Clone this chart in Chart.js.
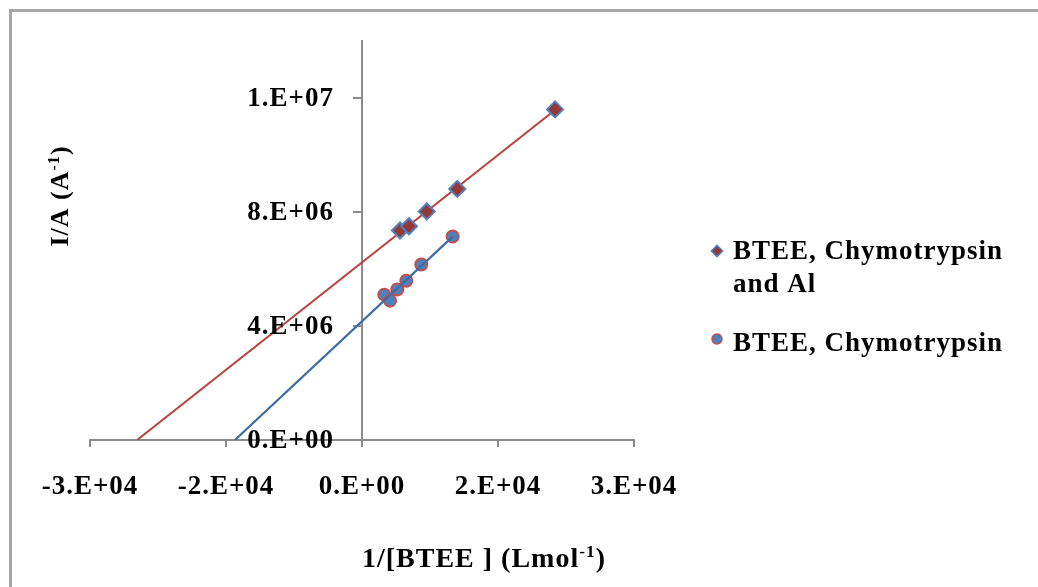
<!DOCTYPE html>
<html>
<head>
<meta charset="utf-8">
<script src="https://cdn.jsdelivr.net/npm/chart.js@4/dist/chart.umd.min.js"></script>
<style>
    body { margin: 0; background: #fff; }
    #wrap { width: 1038px; height: 587px; position: relative; }
</style>
</head>
<body>
<div id="wrap"><canvas id="plot-lb" width="1038" height="587"></canvas></div>
<script>
// values
let x_al = [4190, 5180, 7140, 10510, 21290];
let y_al = [7.35e6, 7.50e6, 8.02e6, 8.81e6, 1.160e7];
let x_chy = [2460, 3090, 3890, 4890, 6540, 10000];
let y_chy = [5.10e6, 4.89e6, 5.28e6, 5.59e6, 6.16e6, 7.14e6];
let series_names = ['BTEE, Chymotrypsin and Al', 'BTEE, Chymotrypsin'];
let x_range = [-3e4, 3e4];
let y_range = [0, 1.4e7];
let x_ticks = [-3e4, -1.5e4, 0, 1.5e4, 3e4];
let y_ticks = [0, 4e6, 8e6, 1.2e7];

const FONT = '"Liberation Serif", "Times New Roman", serif';

function to_points(xs, ys) {
    return xs.map((x, i) => ({ x: x, y: ys[i] }));
}

// least squares line, drawn back to where it meets y = 0 (like the excel trendline)
function trend(xs, ys) {
    let n = xs.length;
    let mx = xs.reduce((a, b) => a + b, 0) / n;
    let my = ys.reduce((a, b) => a + b, 0) / n;
    let sxy = 0, sxx = 0;
    for (let i = 0; i < n; i++) {
        sxy += (xs[i] - mx) * (ys[i] - my);
        sxx += (xs[i] - mx) * (xs[i] - mx);
    }
    let b = sxy / sxx;
    let a = my - b * mx;
    let x0 = -a / b;
    let x1 = Math.max(...xs);
    return [{ x: x0, y: 0 }, { x: x1, y: a + b * x1 }];
}

function fmt_e(v) {
    if (v === 0) return '0.E+00';
    let parts = v.toExponential(0).split('e');
    let e = parseInt(parts[1]);
    return parts[0] + '.E' + (e < 0 ? '-' : '+') + String(Math.abs(e)).padStart(2, '0');
}

// text with a superscript part, centred on x
function draw_rich(ctx, parts, x, y, size) {
    let widths = parts.map(p => {
        ctx.font = 'bold ' + (p.sup ? size * 0.62 : size) + 'px ' + FONT;
        return ctx.measureText(p.t).width;
    });
    let total = widths.reduce((a, b) => a + b, 0);
    let cx = x - total / 2;
    ctx.textAlign = 'left';
    ctx.textBaseline = 'alphabetic';
    parts.forEach((p, i) => {
        ctx.font = 'bold ' + (p.sup ? size * 0.62 : size) + 'px ' + FONT;
        ctx.fillText(p.t, cx, p.sup ? y - size * 0.36 : y);
        cx += widths[i];
    });
}

let extras = {
    id: 'extras',
    beforeDraw(chart) {
        let ctx = chart.ctx;
        ctx.fillStyle = '#fff';
        ctx.fillRect(0, 0, chart.width, chart.height);
        ctx.letterSpacing = '1px';
    },
    afterDraw(chart) {
        let ctx = chart.ctx;
        ctx.save();
        ctx.letterSpacing = '1px';
        // outer frame
        ctx.strokeStyle = '#a6a6a6';
        ctx.lineWidth = 3;
        ctx.strokeRect(10.5, 10.5, 1200, 800);

        ctx.fillStyle = '#000';
        // y tick labels, left of the axis line
        let ys = chart.scales.y;
        let axis_x = chart.scales.x.getPixelForValue(0);
        ctx.font = 'bold 27px ' + FONT;
        ctx.textAlign = 'right';
        ctx.textBaseline = 'middle';
        ys.ticks.forEach(t => {
            ctx.fillText(fmt_e(t.value), axis_x - 28, ys.getPixelForValue(t.value) + 1);
        });

        // y title
        ctx.save();
        ctx.translate(68, 196);
        ctx.rotate(-Math.PI / 2);
        draw_rich(ctx, [{ t: 'I/A (A' }, { t: '-1', sup: true }, { t: ')' }], 0, 0, 26);
        ctx.restore();
        // x title
        draw_rich(ctx, [{ t: '1/[BTEE ] (Lmol' }, { t: '-1', sup: true }, { t: ')' }], 484, 567, 28);

        // legend
        let ds = chart.data.datasets;
        let lx = 717;
        ctx.font = 'bold 27px ' + FONT;
        ctx.textAlign = 'left';
        ctx.textBaseline = 'alphabetic';
        // entry 1 (two lines)
        ctx.save();
        ctx.translate(lx, 251);
        ctx.rotate(Math.PI / 4);
        ctx.fillStyle = ds[0].backgroundColor;
        ctx.strokeStyle = ds[0].borderColor;
        ctx.lineWidth = 1.5;
        ctx.fillRect(-4, -4, 8, 8);
        ctx.strokeRect(-4, -4, 8, 8);
        ctx.restore();
        ctx.fillText('BTEE, Chymotrypsin', 733, 259);
        ctx.fillText('and Al', 733, 292);
        // entry 2
        ctx.beginPath();
        ctx.arc(lx, 339, 5, 0, Math.PI * 2);
        ctx.fillStyle = ds[1].backgroundColor;
        ctx.fill();
        ctx.strokeStyle = ds[1].borderColor;
        ctx.lineWidth = 1.5;
        ctx.stroke();
        ctx.fillStyle = '#000';
        ctx.fillText('BTEE, Chymotrypsin', 733, 351);
        ctx.restore();
    }
};

let axis_grey = '#8c8c8c';
let tick_font = { family: FONT, size: 27, weight: 'bold' };

let ctx = document.getElementById('plot-lb');
var chart = new Chart(ctx, {
    type: 'scatter',
    data: {
        datasets: [
            {
                label: series_names[0],
                data: to_points(x_al, y_al),
                pointStyle: 'rectRot',
                pointRadius: 8,
                backgroundColor: '#953735',
                borderColor: '#4F81BD',
                borderWidth: 2,
                order: 1
            },
            {
                label: series_names[1],
                data: to_points(x_chy, y_chy),
                pointStyle: 'circle',
                pointRadius: 6,
                backgroundColor: '#4F81BD',
                borderColor: '#C0504D',
                borderWidth: 2,
                order: 3
            },
            {
                label: 'trend 1',
                data: trend(x_al, y_al),
                showLine: true,
                pointRadius: 0,
                borderColor: '#B9403D',
                borderWidth: 2,
                order: 2
            },
            {
                label: 'trend 2',
                data: trend(x_chy, y_chy),
                showLine: true,
                pointRadius: 0,
                borderColor: '#3E6DA6',
                borderWidth: 2.2,
                order: 0
            }
        ]
    },
    options: {
        responsive: false,
        animation: false,
        layout: { padding: { left: 90, right: 404, top: 41, bottom: 59.6 } },
        scales: {
            x: {
                type: 'linear',
                position: 'bottom',
                min: x_range[0],
                max: x_range[1],
                afterBuildTicks: s => { s.ticks = x_ticks.map(v => ({ value: v })); },
                grid: { drawOnChartArea: false, drawTicks: true, tickLength: 7, color: axis_grey, lineWidth: 2 },
                border: { display: true, color: axis_grey, width: 2 },
                ticks: { padding: 24, color: '#000', font: tick_font, callback: v => fmt_e(v), maxRotation: 0, autoSkip: false }
            },
            y: {
                type: 'linear',
                position: { x: 0 },
                min: y_range[0],
                max: y_range[1],
                afterBuildTicks: s => { s.ticks = y_ticks.map(v => ({ value: v })); },
                grid: { drawOnChartArea: false, drawTicks: true, tickLength: 8, color: axis_grey, lineWidth: 2 },
                border: { display: true, color: axis_grey, width: 2 },
                // labels are drawn by the extras plugin so they can sit off the axis line
                ticks: { display: false }
            }
        },
        plugins: {
            legend: { display: false },
            tooltip: { enabled: false }
        }
    },
    plugins: [extras]
});
</script>
</body>
</html>
